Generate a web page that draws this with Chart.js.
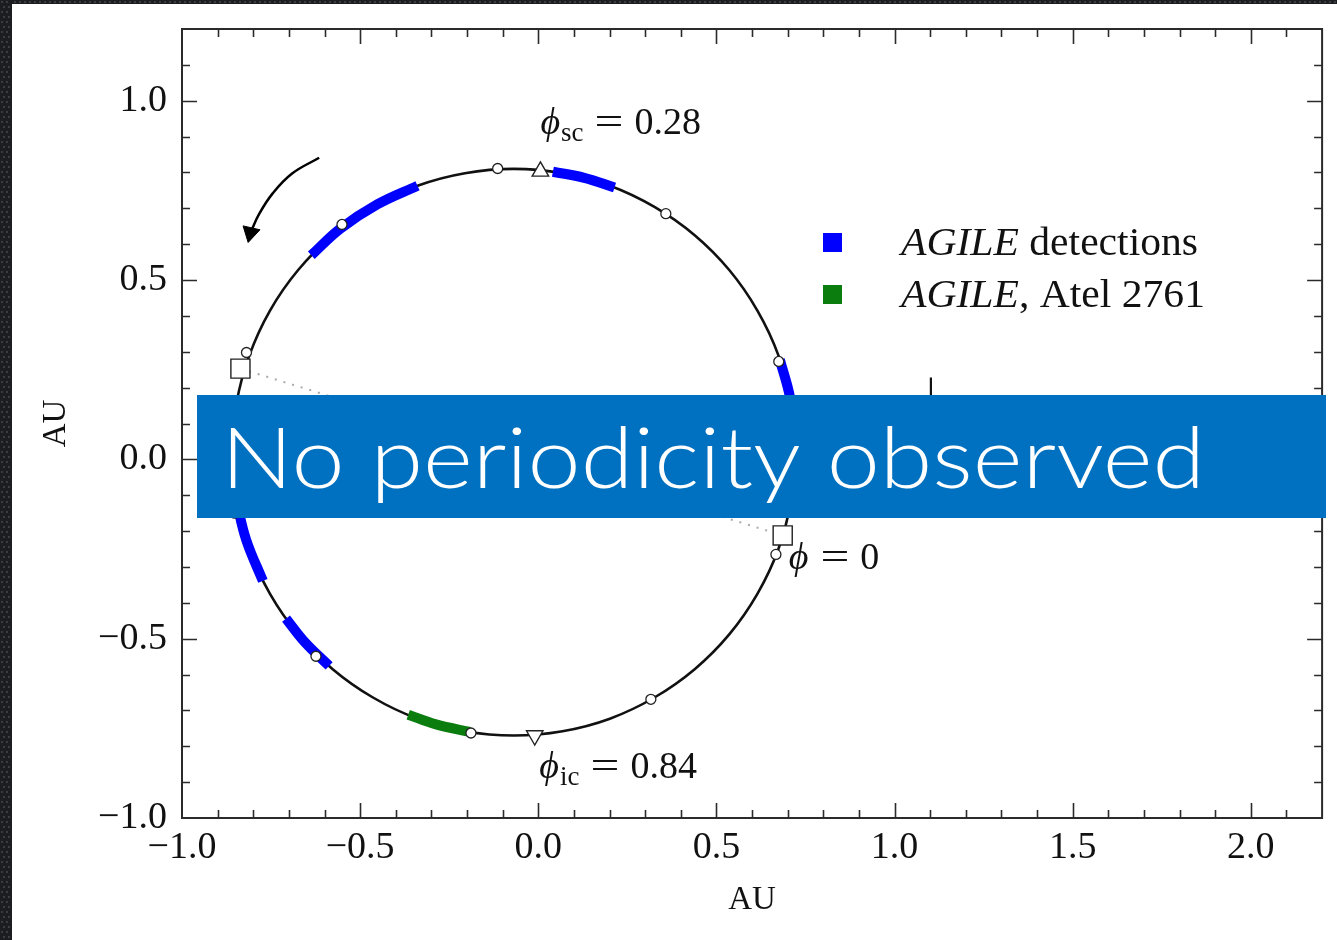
<!DOCTYPE html>
<html>
<head>
<meta charset="utf-8">
<script src="https://cdn.jsdelivr.net/npm/chart.js@4.4.1/dist/chart.umd.min.js"></script>
<style>
html, body { margin: 0; padding: 0; background: #fff; overflow: hidden; }
canvas { display: block; }
</style>
</head>
<body>
<canvas id="chart" width="1337" height="940"></canvas>
<script>
// --- values (AU) ---
const orbitX = [0.721, 0.709, 0.674, 0.615, 0.536, 0.439, 0.326, 0.201, 0.068, -0.069, -0.206, -0.339, -0.464,
  -0.577, -0.674, -0.753, -0.811, -0.847, -0.859, -0.847, -0.811, -0.753, -0.674, -0.577, -0.464, -0.339,
  -0.206, -0.069, 0.068, 0.201, 0.326, 0.439, 0.536, 0.615, 0.674, 0.709, 0.721];
const orbitY = [0.020, 0.157, 0.290, 0.415, 0.528, 0.625, 0.704, 0.763, 0.798, 0.810, 0.798, 0.763, 0.704,
  0.625, 0.528, 0.415, 0.290, 0.157, 0.020, -0.117, -0.250, -0.375, -0.488, -0.585, -0.664, -0.723,
  -0.758, -0.770, -0.758, -0.723, -0.664, -0.585, -0.488, -0.375, -0.250, -0.117, 0.020];

// AGILE detections, one arc each
const detArcX = [[0.041, 0.129, 0.214], [-0.637, -0.556, -0.452, -0.339], [0.678, 0.707, 0.720],
  [-0.847, -0.820, -0.773], [-0.708, -0.656, -0.587]];
const detArcY = [[0.802, 0.785, 0.758], [0.569, 0.643, 0.711, 0.763], [0.278, 0.171, 0.061],
  [-0.117, -0.224, -0.339], [-0.444, -0.509, -0.576]];

// AGILE, Atel 2761
const atelX = [-0.365, -0.287, -0.192];
const atelY = [-0.712, -0.739, -0.760];

// phase markers (open circles)
const phaseX = [0.675, 0.358, -0.114, -0.551, -0.819, -0.852, -0.624, -0.189, 0.316, 0.667];
const phaseY = [0.273, 0.685, 0.811, 0.655, 0.298, -0.150, -0.549, -0.763, -0.669, -0.265];

// superior / inferior conjunction
const conjX = [0.006, -0.010];
const conjY = [0.803, -0.770];

// periastron / apastron squares, joined by the dotted line
const apsX = [-0.836, 0.686];
const apsY = [0.253, -0.212];

// direction arrow
const arrowX = [-0.615, -0.691, -0.746, -0.783, -0.808];
const arrowY = [0.841, 0.797, 0.741, 0.685, 0.632];

// short marker at the right, mostly under the banner
const markX = [1.102, 1.102];
const markY = [0.228, 0.10];

const xTickVals = [-1.0, -0.5, 0.0, 0.5, 1.0, 1.5, 2.0];
const xTickLabels = ["\u22121.0", "\u22120.5", "0.0", "0.5", "1.0", "1.5", "2.0"];
const yTickVals = [-1.0, -0.5, 0.0, 0.5, 1.0];
const yTickLabels = ["\u22121.0", "\u22120.5", "0.0", "0.5", "1.0"];

const phaseNotes = [
  { sub: "sc", value: "0.28", x: 0.006, y: 0.908 },
  { sub: "ic", value: "0.84", x: 0.003, y: -0.889 },
  { sub: "", value: "0", x: 0.703, y: -0.306 }
];

const legendItalic = ["AGILE", "AGILE"];
const legendRest = [" detections", ", Atel 2761"];
const legendColors = ["#0000ff", "#0b7d0f"];

const bannerText = "No periodicity observed";

// --- helpers ---
const pts = (xs, ys) => xs.map((v, i) => ({ x: v, y: ys[i] }));
const serif = '"Liberation Serif", "DejaVu Serif", serif';

// first dataset is drawn on top
const datasets = [];
datasets.push({
  data: pts(arrowX.slice(-1), arrowY.slice(-1)),
  pointStyle: "triangle", rotation: 193, pointRadius: 10,
  backgroundColor: "#000", borderColor: "#000", borderWidth: 1
});
datasets.push({
  data: pts(arrowX, arrowY), showLine: true, tension: 0.4, pointRadius: 0,
  borderColor: "#000", borderWidth: 2.5
});
datasets.push({
  data: pts(apsX, apsY), pointStyle: "rect", pointRadius: 13.5,
  backgroundColor: "#fff", borderColor: "#222", borderWidth: 1.4
});
datasets.push({
  data: pts(conjX.slice(0, 1), conjY.slice(0, 1)), pointStyle: "triangle", pointRadius: 9.5,
  backgroundColor: "#fff", borderColor: "#222", borderWidth: 1.4
});
datasets.push({
  data: pts(conjX.slice(1), conjY.slice(1)), pointStyle: "triangle", rotation: 180, pointRadius: 9.5,
  backgroundColor: "#fff", borderColor: "#222", borderWidth: 1.4
});
datasets.push({
  data: pts(phaseX, phaseY), pointStyle: "circle", pointRadius: 5,
  backgroundColor: "#fff", borderColor: "#222", borderWidth: 1.3
});
detArcX.forEach((xs, i) => {
  datasets.push({
    data: pts(xs, detArcY[i]), showLine: true, tension: 0.4, pointRadius: 0,
    borderColor: legendColors[0], borderWidth: 10, borderCapStyle: "butt"
  });
});
datasets.push({
  data: pts(atelX, atelY), showLine: true, tension: 0.4, pointRadius: 0,
  borderColor: legendColors[1], borderWidth: 10, borderCapStyle: "butt"
});
datasets.push({
  data: pts(orbitX, orbitY), showLine: true, tension: 0.3, pointRadius: 0,
  borderColor: "#111", borderWidth: 2.6
});
datasets.push({
  data: pts(apsX, apsY), showLine: true, pointRadius: 0,
  borderColor: "#aaa", borderWidth: 2, borderDash: [2, 7]
});
datasets.push({
  data: pts(markX, markY), showLine: true, pointRadius: 0,
  borderColor: "#111", borderWidth: 2.2
});

// --- page background with the dark textured edge ---
const backdrop = {
  id: "backdrop",
  beforeDraw(chart) {
    const c = chart.ctx;
    c.save();
    c.fillStyle = "#fff";
    c.fillRect(0, 0, chart.width, chart.height);
    c.fillStyle = "#1c1d20";
    c.fillRect(0, 0, 12, chart.height);
    c.fillRect(0, 0, chart.width, 4);
    c.fillStyle = "#3c3d41";
    for (let y = 1; y < chart.height; y += 5) {
      for (let x = (y % 10 === 1 ? 1 : 3); x < 11; x += 5) c.fillRect(x, y, 2, 2);
    }
    for (let x = 14; x < chart.width; x += 5) c.fillRect(x, 1, 2, 2);
    c.restore();
  }
};

// --- frame with inward ticks on all four sides ---
const frame = {
  id: "frame",
  afterDatasetsDraw(chart) {
    const { ctx, chartArea: a, scales: { x, y } } = chart;
    ctx.save();
    ctx.strokeStyle = "#2b2b2b";
    ctx.lineWidth = 1.6;
    ctx.beginPath();
    for (let i = -9; i <= 21; i++) {
      const px = Math.round(x.getPixelForValue(i / 10)) + 0.5;
      const len = i % 5 === 0 ? 15 : 8;
      ctx.moveTo(px, a.bottom); ctx.lineTo(px, a.bottom - len);
      ctx.moveTo(px, a.top); ctx.lineTo(px, a.top + len);
    }
    for (let i = -9; i <= 11; i++) {
      const py = Math.round(y.getPixelForValue(i / 10)) + 0.5;
      const len = i % 5 === 0 ? 15 : 8;
      ctx.moveTo(a.left, py); ctx.lineTo(a.left + len, py);
      ctx.moveTo(a.right, py); ctx.lineTo(a.right - len, py);
    }
    ctx.stroke();
    ctx.lineWidth = 2;
    ctx.strokeRect(a.left, a.top, a.right - a.left, a.bottom - a.top);
    ctx.restore();
  }
};

// --- phase labels and legend ---
const notes = {
  id: "notes",
  afterDatasetsDraw(chart) {
    const { ctx, scales: { x, y } } = chart;
    ctx.save();
    ctx.fillStyle = "#111";
    ctx.textBaseline = "alphabetic";
    phaseNotes.forEach(n => {
      let px = x.getPixelForValue(n.x);
      const py = y.getPixelForValue(n.y);
      ctx.font = "italic 38px " + serif;
      ctx.fillText("\u03d5", px, py);
      px += ctx.measureText("\u03d5").width + 1;
      if (n.sub) {
        ctx.font = "27px " + serif;
        ctx.fillText(n.sub, px, py + 7);
        px += ctx.measureText(n.sub).width;
      }
      px += 11;
      ctx.font = "38px " + serif;
      // wide TeX-like equals sign
      ctx.save();
      ctx.translate(px, py);
      ctx.scale(1.35, 1);
      ctx.fillText("=", 0, 0);
      ctx.restore();
      px += ctx.measureText("=").width * 1.35 + 11;
      ctx.fillText(n.value, px, py);
    });

    ctx.font = "italic 39px " + serif;
    const wi = ctx.measureText(legendItalic[0]).width;
    ctx.font = "39px " + serif;
    const sx = 297 / (wi + ctx.measureText(legendRest[0]).width);
    legendColors.forEach((col, i) => {
      const cy = 243 + i * 52;
      ctx.fillStyle = col;
      ctx.fillRect(823, cy - 10, 19, 19);
      ctx.save();
      ctx.translate(901, cy + 12);
      ctx.scale(sx, 1);
      ctx.fillStyle = "#111";
      ctx.font = "italic 39px " + serif;
      ctx.fillText(legendItalic[i], 0, 0);
      const w = ctx.measureText(legendItalic[i]).width;
      ctx.font = "39px " + serif;
      ctx.fillText(legendRest[i], w, 0);
      ctx.restore();
    });
    ctx.restore();
  }
};

// --- slide banner on top of the figure ---
const banner = {
  id: "banner",
  afterDraw(chart) {
    const ctx = chart.ctx;
    ctx.save();
    ctx.fillStyle = "#0070c0";
    ctx.fillRect(197, 395, 1129, 123);
    ctx.font = '300 85px Lato, "Open Sans", sans-serif';
    ctx.textBaseline = "alphabetic";
    const w = ctx.measureText(bannerText).width;
    ctx.translate(221, 488);
    ctx.scale(984 / w, 1);
    ctx.fillStyle = "#fff";
    ctx.fillText(bannerText, 0, 0);
    ctx.restore();
  }
};

const noPad = s => { s.paddingTop = 0; s.paddingBottom = 0; s.paddingLeft = 0; s.paddingRight = 0; };

const ctx = document.getElementById("chart").getContext("2d");
new Chart(ctx, {
  type: "scatter",
  data: { datasets: datasets },
  options: {
    responsive: false,
    animation: false,
    layout: { padding: { left: 0, top: 29, right: 7, bottom: 0 } },
    plugins: { legend: { display: false }, tooltip: { enabled: false } },
    scales: {
      x: {
        type: "linear", min: -1, max: 2.2,
        grid: { display: false, drawTicks: false },
        border: { display: false },
        afterBuildTicks: s => { s.ticks = xTickVals.map(v => ({ value: v })); },
        afterFit: s => { s.height = 122; noPad(s); },
        ticks: {
          padding: 7, color: "#111", maxRotation: 0, autoSkip: false,
          font: { family: serif, size: 38 },
          callback: (v, i) => xTickLabels[i]
        },
        title: {
          display: true, text: "AU", color: "#111",
          font: { family: serif, size: 33 }, padding: { top: 0, bottom: 20 }
        }
      },
      y: {
        type: "linear", min: -1, max: 1.2,
        grid: { display: false, drawTicks: false },
        border: { display: false },
        afterBuildTicks: s => { s.ticks = yTickVals.map(v => ({ value: v })); },
        afterFit: s => { s.width = 182; noPad(s); },
        ticks: {
          padding: 15, color: "#111", autoSkip: false,
          font: { family: serif, size: 38 },
          callback: (v, i) => yTickLabels[i]
        },
        title: {
          display: true, text: "AU", color: "#111",
          font: { family: serif, size: 33 }, padding: { top: 37, bottom: 0 }
        }
      }
    }
  },
  plugins: [backdrop, frame, notes, banner]
});
</script>
</body>
</html>
